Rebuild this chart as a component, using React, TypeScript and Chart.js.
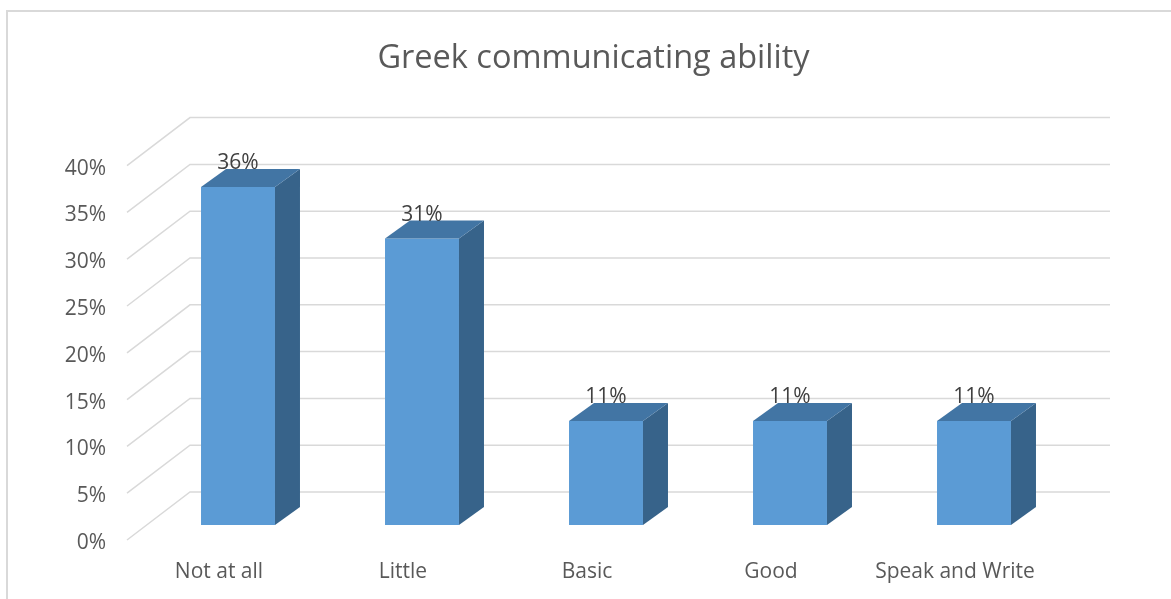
import React, { useEffect, useRef } from "react";
import { Chart, registerables } from "chart.js";

Chart.register(...registerables);

const chartTitle = "Greek communicating ability";
const categories = ["Not at all", "Little", "Basic", "Good", "Speak and Write"];
const values = [36.1, 30.6, 11.1, 11.1, 11.1];
const yMin = 0;
const yMax = 40;
const yStep = 5;

const FONT = "'Open Sans', sans-serif";
const TEXT = "#595959";
const GRID = "#d9d9d9";
const FRONT = "#5b9bd5";
const TOP = "#4275a4";
const SIDE = "#37638a";

// oblique projection offsets (pixels) for depth planes
const BACK = { dx: 44, dy: -33 };
const BAR_DEPTH = { dx: 25, dy: -18 };
const FRONT_EDGE = { dx: -19, dy: 15 };

const threeD = {
  id: "threeD",
  beforeDraw(chart: any) {
    const ctx = chart.ctx;
    ctx.save();
    ctx.strokeStyle = GRID;
    ctx.lineWidth = 2;
    ctx.strokeRect(7, 11, chart.width + 20, chart.height + 20);
    ctx.restore();
  },
  beforeDatasetsDraw(chart: any) {
    const ctx = chart.ctx;
    const ys = chart.scales.y;
    const area = chart.chartArea;
    ctx.save();
    ctx.strokeStyle = GRID;
    ctx.lineWidth = 1.5;
    ys.ticks.forEach((t: any) => {
      const py = ys.getPixelForValue(t.value);
      ctx.beginPath();
      ctx.moveTo(area.left + FRONT_EDGE.dx, py + FRONT_EDGE.dy);
      ctx.lineTo(area.left + BACK.dx, py + BACK.dy);
      ctx.lineTo(area.right + BACK.dx, py + BACK.dy);
      ctx.stroke();
    });
    ctx.restore();
  },
  afterDatasetsDraw(chart: any) {
    const ctx = chart.ctx;
    const meta = chart.getDatasetMeta(0);
    const data = chart.data.datasets[0].data as number[];
    ctx.save();
    meta.data.forEach((bar: any, i: number) => {
      const l = bar.x - bar.width / 2;
      const r = bar.x + bar.width / 2;
      const top = bar.y;
      const base = bar.base;
      const { dx, dy } = BAR_DEPTH;
      // side face
      ctx.fillStyle = SIDE;
      ctx.beginPath();
      ctx.moveTo(r, top);
      ctx.lineTo(r + dx, top + dy);
      ctx.lineTo(r + dx, base + dy);
      ctx.lineTo(r, base);
      ctx.closePath();
      ctx.fill();
      // top face
      ctx.fillStyle = TOP;
      ctx.beginPath();
      ctx.moveTo(l, top);
      ctx.lineTo(l + dx, top + dy);
      ctx.lineTo(r + dx, top + dy);
      ctx.lineTo(r, top);
      ctx.closePath();
      ctx.fill();
      // value label
      ctx.fillStyle = "#404040";
      ctx.font = `21px ${FONT}`;
      ctx.textAlign = "center";
      ctx.textBaseline = "middle";
      ctx.fillText(Math.round(data[i]) + "%", bar.x, top - 24);
    });
    ctx.restore();
  },
};

export default function App() {
  const ref = useRef<HTMLCanvasElement | null>(null);
  useEffect(() => {
    if (!ref.current) return;
    const chart = new Chart(ref.current, {
      type: "bar",
      data: {
        labels: categories,
        datasets: [
          {
            data: values,
            backgroundColor: FRONT,
            borderWidth: 0,
            categoryPercentage: 1,
            barPercentage: 0.402,
          },
        ],
      },
      options: {
        animation: false,
        responsive: true,
        maintainAspectRatio: false,
        layout: { padding: { left: 16, right: 0, top: 0, bottom: 0 } },
        plugins: {
          legend: { display: false },
          tooltip: { enabled: false },
          title: {
            display: true,
            text: chartTitle,
            color: TEXT,
            font: { family: FONT, size: 32.5, weight: "normal" as any },
            padding: { top: 39, bottom: 72.6 },
          },
        },
        scales: {
          x: {
            grid: { display: false, drawTicks: false },
            border: { display: false },
            ticks: {
              color: TEXT,
              font: { family: FONT, size: 21 },
              padding: 34,
              labelOffset: FRONT_EDGE.dx,
              maxRotation: 0,
              autoSkip: false,
            },
            afterFit: (s: any) => {
              s.height = 74;
            },
          },
          y: {
            min: yMin,
            max: yMax,
            grid: { display: false, drawTicks: false },
            border: { display: false },
            ticks: {
              stepSize: yStep,
              color: TEXT,
              font: { family: FONT, size: 21 },
              padding: 40,
              labelOffset: 18,
              callback: (v: any) => v + "%",
            },
            afterFit: (s: any) => {
              s.width = 130;
            },
          },
          yRight: {
            type: "linear",
            position: "right",
            display: true,
            grid: { display: false, drawTicks: false },
            border: { display: false },
            ticks: { display: false },
            afterFit: (s: any) => {
              s.width = 105;
            },
          },
        },
      },
      plugins: [threeD],
    });
    return () => chart.destroy();
  }, []);
  return (
    <div style={{ position: "absolute", left: 0, top: 0, width: 1171, height: 599, background: "#fff" }}>
      <canvas ref={ref} />
    </div>
  );
}
